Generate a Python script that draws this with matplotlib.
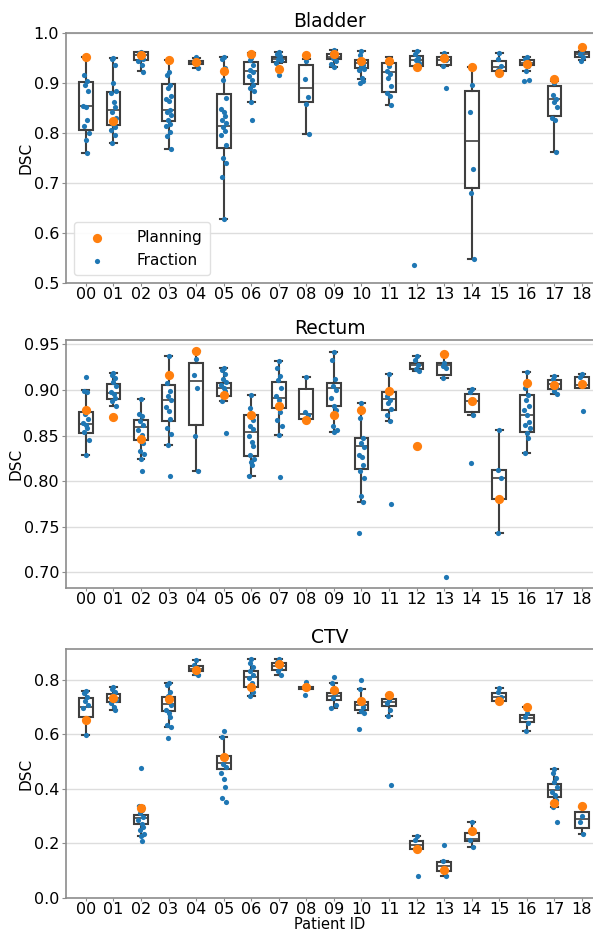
import numpy as np
import matplotlib.pyplot as plt

patients = ["%02d" % i for i in range(19)]

# ---------------- Bladder ----------------
bladder_planning = [0.952, 0.824, 0.955, 0.945, 0.941, 0.923, 0.958, 0.928, 0.955, 0.958,
                    0.943, 0.943, 0.931, 0.949, 0.931, 0.920, 0.938, 0.908, 0.971]
bladder_fraction = [
    [0.950, 0.916, 0.903, 0.896, 0.883, 0.854, 0.851, 0.826, 0.814, 0.800, 0.786, 0.760],
    [0.950, 0.948, 0.936, 0.900, 0.883, 0.879, 0.861, 0.852, 0.842, 0.830, 0.818, 0.811, 0.806, 0.796, 0.779],
    [0.962, 0.960, 0.957, 0.953, 0.948, 0.943, 0.935, 0.922],
    [0.922, 0.916, 0.896, 0.890, 0.873, 0.868, 0.863, 0.846, 0.841, 0.836, 0.826, 0.818, 0.813, 0.801, 0.793, 0.767],
    [0.951, 0.943, 0.940, 0.939, 0.930],
    [0.952, 0.947, 0.930, 0.906, 0.870, 0.848, 0.841, 0.833, 0.826, 0.819, 0.811, 0.804, 0.796, 0.775,
     0.749, 0.739, 0.711, 0.628],
    [0.950, 0.945, 0.935, 0.926, 0.921, 0.913, 0.906, 0.896, 0.890, 0.883, 0.862, 0.825],
    [0.962, 0.958, 0.953, 0.948, 0.945, 0.940, 0.916],
    [0.944, 0.908, 0.871, 0.858, 0.797],
    [0.965, 0.960, 0.955, 0.950, 0.943, 0.938, 0.931],
    [0.963, 0.955, 0.936, 0.933, 0.928, 0.925, 0.910, 0.903, 0.900],
    [0.933, 0.924, 0.918, 0.910, 0.893, 0.880, 0.873, 0.856],
    [0.963, 0.958, 0.950, 0.945, 0.940, 0.535],
    [0.960, 0.953, 0.945, 0.933, 0.890],
    [0.896, 0.841, 0.728, 0.679, 0.547],
    [0.960, 0.947, 0.934, 0.926],
    [0.952, 0.947, 0.933, 0.924, 0.906, 0.903],
    [0.900, 0.875, 0.868, 0.862, 0.852, 0.830, 0.826, 0.761],
    [0.963, 0.958, 0.952, 0.943],
]
bladder_q1 = [0.806, 0.815, 0.945, 0.824, 0.938, 0.769, 0.898, 0.942, 0.861, 0.947,
              0.930, 0.881, 0.933, 0.936, 0.690, 0.923, 0.935, 0.834, 0.952]
bladder_med = [0.854, 0.846, 0.955, 0.845, 0.942, 0.814, 0.923, 0.947, 0.890, 0.952,
               0.940, 0.922, 0.945, 0.945, 0.784, 0.931, 0.940, 0.868, 0.957]
bladder_q3 = [0.901, 0.881, 0.961, 0.898, 0.944, 0.878, 0.941, 0.952, 0.935, 0.958,
              0.945, 0.940, 0.953, 0.952, 0.883, 0.943, 0.945, 0.894, 0.961]
bladder_lo = [0.760, 0.779, 0.923, 0.767, 0.930, 0.628, 0.862, 0.940, 0.797, 0.931,
              0.908, 0.856, 0.933, 0.933, 0.547, 0.920, 0.923, 0.761, 0.945]
bladder_hi = [0.952, 0.950, 0.962, 0.945, 0.950, 0.952, 0.960, 0.962, 0.947, 0.965,
              0.963, 0.951, 0.963, 0.960, 0.931, 0.960, 0.952, 0.903, 0.963]

# ---------------- Rectum ----------------
rectum_planning = [0.878, 0.870, 0.846, 0.916, 0.943, 0.894, 0.873, 0.882, 0.867, 0.872,
                   0.878, 0.899, 0.839, 0.939, 0.888, 0.780, 0.908, 0.905, 0.906]
rectum_fraction = [
    [0.914, 0.899, 0.898, 0.874, 0.868, 0.864, 0.862, 0.858, 0.854, 0.845, 0.829],
    [0.919, 0.916, 0.913, 0.909, 0.904, 0.898, 0.895, 0.891, 0.888, 0.882],
    [0.890, 0.874, 0.871, 0.866, 0.862, 0.856, 0.851, 0.842, 0.833, 0.830, 0.824, 0.811],
    [0.937, 0.908, 0.899, 0.893, 0.889, 0.881, 0.877, 0.868, 0.858, 0.852, 0.840, 0.806],
    [0.934, 0.916, 0.902, 0.849, 0.811],
    [0.924, 0.922, 0.917, 0.912, 0.909, 0.905, 0.902, 0.899, 0.888, 0.853],
    [0.894, 0.880, 0.867, 0.861, 0.857, 0.849, 0.843, 0.839, 0.829, 0.824, 0.821, 0.818, 0.806],
    [0.932, 0.924, 0.915, 0.911, 0.902, 0.893, 0.889, 0.876, 0.867, 0.860, 0.851, 0.805],
    [0.914, 0.876, 0.873],
    [0.942, 0.933, 0.912, 0.904, 0.900, 0.891, 0.882, 0.878, 0.860, 0.856, 0.854],
    [0.886, 0.869, 0.847, 0.842, 0.838, 0.829, 0.826, 0.818, 0.811, 0.804, 0.784, 0.777, 0.743],
    [0.917, 0.893, 0.889, 0.886, 0.879, 0.873, 0.866, 0.775],
    [0.937, 0.933, 0.927, 0.923, 0.921],
    [0.930, 0.926, 0.924, 0.913, 0.695],
    [0.901, 0.898, 0.873, 0.820],
    [0.856, 0.812, 0.803, 0.743],
    [0.920, 0.902, 0.894, 0.889, 0.882, 0.878, 0.872, 0.865, 0.862, 0.858, 0.853, 0.847, 0.831],
    [0.915, 0.912, 0.903, 0.899, 0.896],
    [0.917, 0.914, 0.877],
]
rectum_q1 = [0.853, 0.890, 0.845, 0.866, 0.862, 0.893, 0.828, 0.880, 0.868, 0.882,
             0.813, 0.878, 0.923, 0.916, 0.876, 0.780, 0.854, 0.901, 0.902]
rectum_med = [0.863, 0.897, 0.859, 0.889, 0.910, 0.902, 0.854, 0.891, 0.874, 0.902,
              0.839, 0.890, 0.927, 0.927, 0.888, 0.803, 0.872, 0.906, 0.905]
rectum_q3 = [0.876, 0.906, 0.867, 0.905, 0.930, 0.908, 0.873, 0.909, 0.901, 0.908,
             0.847, 0.898, 0.930, 0.930, 0.896, 0.812, 0.894, 0.911, 0.914]
rectum_lo = [0.829, 0.882, 0.824, 0.840, 0.811, 0.888, 0.806, 0.851, 0.868, 0.854,
             0.777, 0.866, 0.921, 0.913, 0.873, 0.743, 0.831, 0.896, 0.902]
rectum_hi = [0.900, 0.919, 0.890, 0.937, 0.943, 0.924, 0.894, 0.932, 0.914, 0.942,
             0.886, 0.917, 0.937, 0.939, 0.901, 0.856, 0.920, 0.915, 0.917]

# ---------------- CTV ----------------
ctv_planning = [0.653, 0.733, 0.331, 0.729, 0.837, 0.518, 0.773, 0.858, 0.773, 0.763,
                0.723, 0.745, 0.179, 0.102, 0.246, 0.724, 0.700, 0.349, 0.337]
ctv_fraction = [
    [0.760, 0.751, 0.736, 0.724, 0.708, 0.698, 0.598],
    [0.775, 0.767, 0.757, 0.745, 0.726, 0.714, 0.702, 0.690],
    [0.475, 0.338, 0.322, 0.310, 0.298, 0.285, 0.273, 0.261, 0.249, 0.236, 0.227, 0.209],
    [0.788, 0.782, 0.757, 0.739, 0.708, 0.690, 0.677, 0.665, 0.635, 0.626, 0.586],
    [0.873, 0.855, 0.843, 0.824, 0.816],
    [0.614, 0.592, 0.512, 0.491, 0.479, 0.457, 0.436, 0.408, 0.368, 0.353],
    [0.876, 0.861, 0.846, 0.831, 0.818, 0.806, 0.788, 0.757, 0.741],
    [0.876, 0.867, 0.843, 0.831, 0.816],
    [0.791, 0.745],
    [0.809, 0.788, 0.751, 0.733, 0.708, 0.696],
    [0.800, 0.767, 0.702, 0.684, 0.677, 0.620],
    [0.726, 0.714, 0.690, 0.668, 0.414],
    [0.228, 0.214, 0.080],
    [0.196, 0.136, 0.081],
    [0.277, 0.212, 0.187],
    [0.769, 0.755, 0.736],
    [0.680, 0.665, 0.641, 0.614],
    [0.472, 0.457, 0.439, 0.426, 0.408, 0.390, 0.377, 0.359, 0.334, 0.279],
    [0.300, 0.277, 0.234],
]
ctv_q1 = [0.663, 0.720, 0.273, 0.684, 0.833, 0.472, 0.773, 0.837, 0.768, 0.726,
          0.690, 0.704, 0.179, 0.098, 0.208, 0.724, 0.647, 0.369, 0.255]
ctv_med = [0.702, 0.733, 0.292, 0.711, 0.839, 0.494, 0.810, 0.849, 0.772, 0.741,
           0.708, 0.717, 0.194, 0.116, 0.218, 0.736, 0.659, 0.396, 0.289]
ctv_q3 = [0.735, 0.749, 0.306, 0.736, 0.849, 0.522, 0.834, 0.861, 0.775, 0.753,
          0.720, 0.729, 0.208, 0.132, 0.239, 0.751, 0.671, 0.418, 0.316]
ctv_lo = [0.598, 0.690, 0.227, 0.626, 0.816, 0.472, 0.741, 0.816, 0.768, 0.696,
          0.677, 0.668, 0.179, 0.081, 0.187, 0.724, 0.614, 0.334, 0.234]
ctv_hi = [0.760, 0.775, 0.338, 0.788, 0.873, 0.592, 0.876, 0.876, 0.775, 0.788,
          0.767, 0.745, 0.228, 0.136, 0.277, 0.769, 0.700, 0.472, 0.334]

panels = [
    ("Bladder", bladder_planning, bladder_fraction,
     (bladder_q1, bladder_med, bladder_q3, bladder_lo, bladder_hi), (0.5, 1.0), np.arange(0.5, 1.01, 0.1), "%.1f"),
    ("Rectum", rectum_planning, rectum_fraction,
     (rectum_q1, rectum_med, rectum_q3, rectum_lo, rectum_hi), (0.683, 0.9547), np.arange(0.70, 0.951, 0.05), "%.2f"),
    ("CTV", ctv_planning, ctv_fraction,
     (ctv_q1, ctv_med, ctv_q3, ctv_lo, ctv_hi), (0.0, 0.913), np.arange(0.0, 0.81, 0.2), "%.1f"),
]

# small fixed horizontal spread for the strip points
jitter = [0.0, -0.06, 0.05, -0.03, 0.08, -0.09, 0.02, 0.06, -0.05, 0.1,
          -0.01, 0.04, -0.08, 0.07, -0.04, 0.09, -0.07, 0.03, -0.1, 0.01]

edge = "#3f3f3f"
blue = "#1f77b4"
orange = "#ff7f0e"

fig = plt.figure(figsize=(5.93, 9.33), dpi=100)
tops = [33, 340, 649]
bottoms = [283, 588, 898]
H = 933.0
left = 66 / 593.0

for k, (name, planning, fraction, box, ylim, yticks, fmt) in enumerate(panels):
    ax = fig.add_axes([left, 1 - bottoms[k] / H, 1.0 - left, (bottoms[k] - tops[k]) / H])
    q1, med, q3, lo, hi = box
    stats = [dict(q1=q1[i], med=med[i], q3=q3[i], whislo=lo[i], whishi=hi[i]) for i in range(19)]
    ax.bxp(stats, positions=range(19), widths=0.5, showfliers=False, patch_artist=True,
           boxprops=dict(facecolor="white", edgecolor=edge, linewidth=1.5),
           whiskerprops=dict(color=edge, linewidth=1.5),
           capprops=dict(color=edge, linewidth=1.5),
           medianprops=dict(color=edge, linewidth=1.2), zorder=2)
    for i in range(19):
        vals = fraction[i]
        xs = [i + jitter[j % len(jitter)] for j in range(len(vals))]
        ax.scatter(xs, vals, s=14, color=blue, zorder=3, linewidths=0,
                   label="Fraction" if i == 0 else None)
    ax.scatter(range(19), planning, s=44, color=orange, zorder=4, linewidths=0, label="Planning")

    ax.set_xlim(-0.72, 18.4)
    ax.set_ylim(*ylim)
    ax.set_yticks(yticks)
    ax.set_yticklabels([fmt % v for v in yticks])
    ax.set_xticks(range(19))
    ax.set_xticklabels(patients)
    ax.yaxis.grid(True, color="#dddddd", linewidth=1.0, zorder=0)
    ax.set_axisbelow(True)
    ax.set_title(name, fontsize=13.5, pad=4)
    ax.set_ylabel("DSC", fontsize=11, labelpad=0)
    ax.tick_params(axis="both", labelsize=11.5, color="#8c8c8c")
    ax.tick_params(axis="x", length=2, pad=1)
    ax.tick_params(axis="y", length=3, pad=2)
    ax.spines["right"].set_visible(False)
    for s in ["left", "bottom", "top"]:
        ax.spines[s].set_color("#8c8c8c")
        ax.spines[s].set_linewidth(1.2)
    if k == 0:
        h, l = ax.get_legend_handles_labels()
        order = [l.index("Planning"), l.index("Fraction")]
        ax.legend([h[o] for o in order], [l[o] for o in order], loc="lower left",
                  fontsize=11, handletextpad=1.6, borderpad=0.5, labelspacing=0.5,
                  framealpha=0.9, edgecolor="#dddddd")
    if k == 2:
        ax.set_xlabel("Patient ID", fontsize=10.5, labelpad=0)

fig.savefig("out.png", dpi=100)
